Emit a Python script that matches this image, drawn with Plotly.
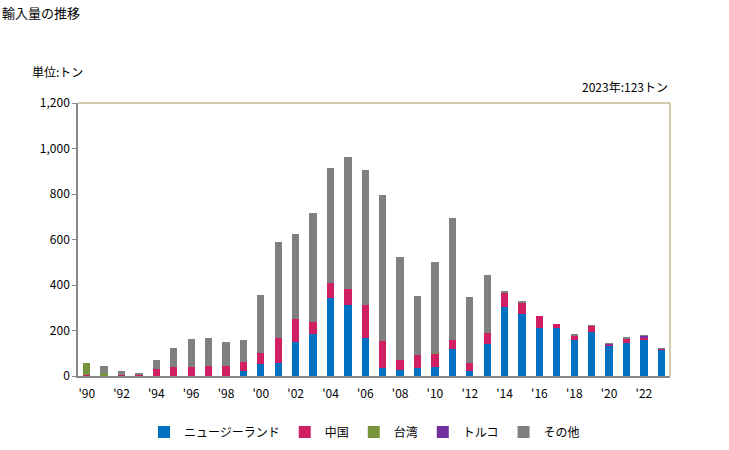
import plotly.graph_objects as go

years = list(range(1990, 2024))
nz = [0, 0, 0, 0, 0, 0, 0, 0, 0, 22, 54, 57, 151, 186, 343, 312, 169, 35, 28, 35,
      40, 119, 22, 142, 304, 274, 213, 213, 160, 195, 135, 145, 161, 116]
china = [4, 0, 4, 4, 31, 41, 41, 45, 45, 41, 47, 112, 100, 52, 66, 71, 143, 119, 42, 57,
         57, 39, 35, 47, 61, 47, 51, 16, 20, 25, 4, 18, 8, 3]
taiwan = [55, 12, 0, 0, 0, 0, 0, 1, 0, 0, 0, 0, 0, 0, 0, 0, 0, 0, 0, 0,
          2, 0, 0, 0, 0, 0, 0, 0, 0, 0, 0, 0, 0, 0]
turkey = [0, 0, 0, 0, 0, 0, 0, 0, 0, 0, 0, 0, 0, 0, 0, 0, 0, 0, 0, 0,
          0, 0, 0, 0, 0, 0, 0, 0, 0, 0, 3, 4, 7, 0]
other = [0, 33, 18, 9, 41, 84, 123, 119, 105, 97, 255, 422, 374, 479, 506, 580, 594, 642, 453, 260,
         400, 537, 291, 255, 5, 5, 0, 0, 5, 4, 3, 5, 4, 4]

series = [
    ("ニュージーランド", nz, "#0070c0"),
    ("中国", china, "#d01f63"),
    ("台湾", taiwan, "#77933c"),
    ("トルコ", turkey, "#7030a0"),
    ("その他", other, "#808080"),
]

tick_years = list(range(1990, 2024, 2))
tick_text = ["'" + str(y)[2:] for y in tick_years]

font_family = "Noto Sans CJK JP, sans-serif"

fig = go.Figure()
for name, vals, color in series:
    fig.add_trace(go.Bar(x=years, y=vals, name=name, marker_color=color,
                         marker_line_width=0))

fig.update_layout(
    barmode="stack",
    bargap=0.58,
    width=729, height=450,
    margin=dict(l=78, r=59, t=103, b=74, autoexpand=False),
    plot_bgcolor="white",
    paper_bgcolor="white",
    font=dict(family=font_family, size=12, color="#000000"),
    showlegend=True,
    legend=dict(orientation="h", x=0.5, xanchor="center", xref="container",
                y=1 - 432 / 450, yanchor="middle", yref="container",
                font=dict(size=12), itemwidth=30, traceorder="normal",
                tracegroupgap=0),
)
fig.add_annotation(text="輸入量の推移", xref="paper", yref="paper",
                   x=-78/592, y=1 + (103 - 12) / 273, xanchor="left", yanchor="middle",
                   showarrow=False, font=dict(size=13))
fig.add_annotation(text="単位:トン", xref="paper", yref="paper",
                   x=-48/592, y=1 + (103 - 72) / 273, xanchor="left", yanchor="middle",
                   showarrow=False, font=dict(size=12))
fig.add_annotation(text="2023年:123トン", xref="paper", yref="paper",
                   x=1.0, y=1 + (103 - 86) / 273, xanchor="right", yanchor="middle",
                   showarrow=False, font=dict(size=12))

fig.update_xaxes(range=[1989.5, 2023.5], tickvals=tick_years, ticktext=tick_text,
                 showline=True, linecolor="#888888", linewidth=1.5, ticks="",
                 showgrid=False, zeroline=False, tickfont=dict(size=12),
                 ticklabelstandoff=6, automargin=False)
fig.update_yaxes(range=[0, 1200], dtick=200, tickformat=",", showline=True,
                 linecolor="#888888", linewidth=1.5, ticks="outside", ticklen=4,
                 tickcolor="#888888", showgrid=False, zeroline=False,
                 tickfont=dict(size=12), automargin=False)

# top and right border in tan
fig.add_shape(type="line", xref="paper", yref="paper", x0=0, x1=1, y0=1, y1=1,
              line=dict(color="#c4bc96", width=1.5))
fig.add_shape(type="line", xref="paper", yref="paper", x0=1, x1=1, y0=0, y1=1,
              line=dict(color="#c4bc96", width=1.5))

fig.write_html("out.html")
